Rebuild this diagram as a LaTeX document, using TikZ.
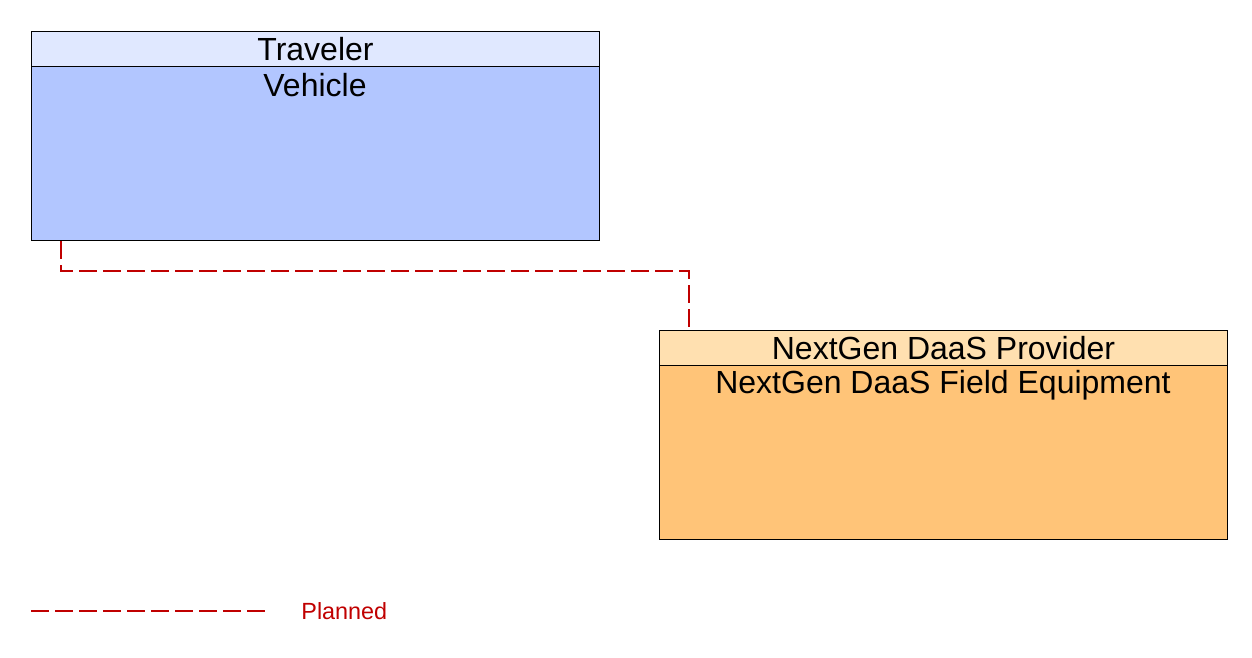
\documentclass[tikz,border=0pt]{standalone}
\usepackage{fontspec}
\setmainfont{Liberation Sans}
\usepackage{xcolor}
\usetikzlibrary{positioning, arrows.meta, calc}

\definecolor{travhead}{RGB}{224,232,255}
\definecolor{travbody}{RGB}{178,198,255}
\definecolor{ngphead}{RGB}{255,224,176}
\definecolor{ngpbody}{RGB}{255,196,120}
\definecolor{plannedred}{RGB}{192,0,0}

\begin{document}
\begin{tikzpicture}[
    x=0.5pt, y=-0.5pt,
    header/.style={
        draw,
        line width=0.5pt,
        minimum width=284pt,
        minimum height=17.5pt,
        inner sep=0pt,
        anchor=north west,
        font=\fontsize{16}{19}\selectfont
    },
    body/.style={
        draw,
        line width=0.5pt,
        minimum width=284pt,
        minimum height=87pt,
        inner sep=0pt,
        anchor=north west
    },
    title/.style={
        inner sep=0pt,
        font=\fontsize{16}{19}\selectfont
    },
    planned/.style={
        plannedred,
        line width=0.6pt,
        dash pattern=on 9pt off 3pt
    }
]
  \useasboundingbox (0,0) rectangle (1252,658);

  % Traveler / Vehicle
  \node[header,fill=travhead] (trav) at (31,31) {Traveler};
  \node[body,fill=travbody] (veh) at (31,66) {};
  \node[title] (vehtxt) at (315,85) {Vehicle};

  % NextGen DaaS Provider / Field Equipment
  \node[header,fill=ngphead] (ngp) at (659,330) {NextGen DaaS Provider};
  \node[body,fill=ngpbody] (ngfe) at (659,365) {};
  \node[title] (ngfetxt) at (943,385) {NextGen DaaS Field Equipment};

  % flow
  \draw[planned] ([xshift=15pt]veh.south west) -- ++(0,30) -| ([xshift=15pt]ngp.north west);

  % legend
  \coordinate (lgA) at (31,611);
  \coordinate (lgB) at (265,611);
  \draw[planned] (lgA) -- (lgB);
  \node[anchor=west,inner sep=0pt,text=plannedred,font=\fontsize{11.7}{14}\selectfont] (lgtxt) at (301,611) {Planned};
\end{tikzpicture}
\end{document}
